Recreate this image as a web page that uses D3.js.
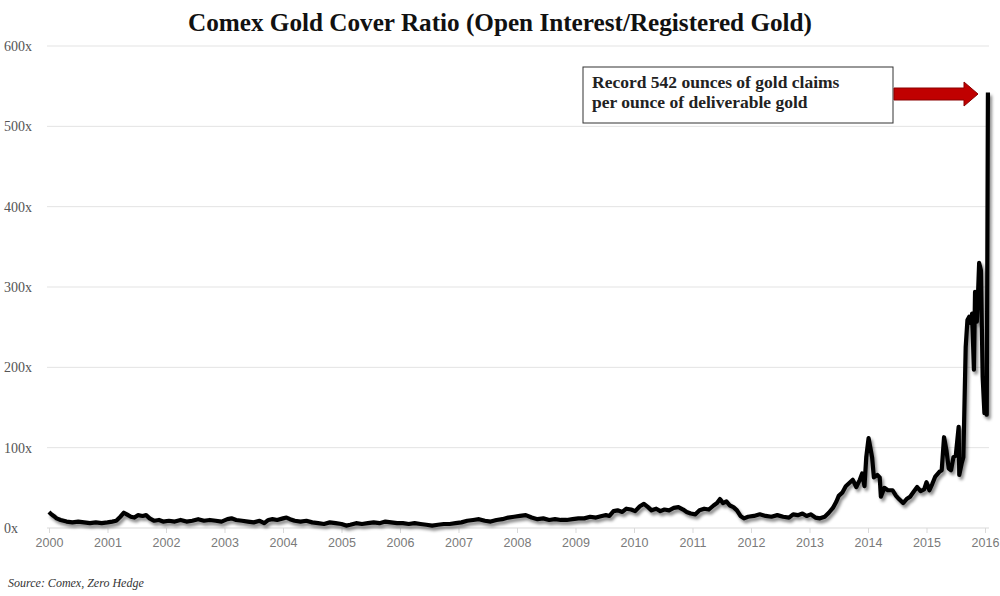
<!DOCTYPE html>
<html>
<head>
<meta charset="utf-8">
<script src="https://cdn.jsdelivr.net/npm/d3@7"></script>
<style>
  html, body { margin: 0; padding: 0; background: #fff; }
  svg { display: block; }
</style>
</head>
<body>
<div id="chart"></div>
<script>
// ratio readings [decimal year, open interest / registered gold]
const coverRatio = [
  [2000.00, 20], [2000.04, 17], [2000.08, 15], [2000.13, 12], [2000.20, 10], [2000.30, 8], [2000.40, 7],
  [2000.50, 8], [2000.60, 7], [2000.70, 6], [2000.80, 7], [2000.90, 6],
  [2001.00, 7], [2001.08, 8], [2001.15, 9], [2001.22, 14], [2001.28, 19], [2001.33, 17], [2001.40, 14],
  [2001.46, 13], [2001.52, 16], [2001.60, 15], [2001.66, 16], [2001.72, 12], [2001.80, 9], [2001.88, 10], [2001.95, 8],
  [2002.05, 9], [2002.15, 8], [2002.25, 10], [2002.35, 8], [2002.45, 9], [2002.55, 11], [2002.65, 9],
  [2002.75, 10], [2002.85, 9], [2002.95, 8],
  [2003.05, 11], [2003.12, 12], [2003.20, 10], [2003.30, 9], [2003.40, 8], [2003.50, 7], [2003.60, 9],
  [2003.68, 6], [2003.75, 10], [2003.82, 11], [2003.90, 10],
  [2004.00, 12], [2004.06, 13], [2004.12, 11], [2004.20, 9], [2004.30, 8], [2004.40, 9], [2004.50, 7],
  [2004.60, 6], [2004.70, 5], [2004.80, 7], [2004.90, 6],
  [2005.00, 5], [2005.08, 3], [2005.15, 4], [2005.25, 6], [2005.35, 5], [2005.45, 6], [2005.55, 7],
  [2005.65, 6], [2005.75, 8], [2005.85, 7], [2005.95, 6],
  [2006.05, 6], [2006.15, 5], [2006.25, 6], [2006.35, 5], [2006.45, 4], [2006.55, 3], [2006.65, 4],
  [2006.75, 5], [2006.85, 5], [2006.95, 6],
  [2007.05, 7], [2007.15, 9], [2007.25, 10], [2007.35, 11], [2007.45, 9], [2007.55, 8], [2007.65, 10],
  [2007.75, 11], [2007.85, 13], [2007.95, 14],
  [2008.05, 15], [2008.15, 16], [2008.25, 13], [2008.35, 11], [2008.45, 12], [2008.55, 10], [2008.65, 11],
  [2008.75, 10], [2008.85, 10], [2008.95, 11],
  [2009.05, 12], [2009.15, 12], [2009.25, 14], [2009.35, 13], [2009.45, 15], [2009.52, 16], [2009.58, 15],
  [2009.65, 21], [2009.72, 22], [2009.80, 20], [2009.87, 24], [2009.95, 23],
  [2010.02, 21], [2010.10, 27], [2010.17, 30], [2010.24, 26], [2010.30, 22], [2010.38, 24], [2010.45, 21],
  [2010.52, 23], [2010.60, 22], [2010.68, 25], [2010.76, 26], [2010.84, 23], [2010.90, 20], [2010.97, 18],
  [2011.05, 17], [2011.12, 22], [2011.20, 24], [2011.28, 23], [2011.36, 28], [2011.42, 31], [2011.47, 36],
  [2011.52, 31], [2011.58, 33], [2011.64, 28], [2011.70, 26], [2011.76, 22], [2011.82, 15], [2011.88, 12],
  [2011.95, 14], [2012.05, 15], [2012.15, 17], [2012.25, 15], [2012.35, 14], [2012.45, 16], [2012.55, 14],
  [2012.65, 13], [2012.72, 17], [2012.80, 16], [2012.88, 18], [2012.95, 15],
  [2013.02, 17], [2013.10, 13], [2013.18, 12], [2013.26, 14], [2013.33, 19], [2013.40, 25], [2013.46, 33],
  [2013.50, 40], [2013.56, 44], [2013.62, 52], [2013.68, 56], [2013.74, 60], [2013.80, 51], [2013.86, 60],
  [2013.90, 68], [2013.94, 52], [2013.97, 88],
  [2014.01, 112], [2014.04, 100], [2014.07, 88], [2014.10, 63], [2014.16, 66], [2014.20, 63], [2014.22, 39],
  [2014.28, 50], [2014.34, 47], [2014.42, 47], [2014.48, 40], [2014.53, 36], [2014.60, 31], [2014.66, 36],
  [2014.72, 39], [2014.78, 45], [2014.84, 51], [2014.90, 46], [2014.96, 48],
  [2015.00, 57], [2015.05, 47], [2015.10, 55], [2015.15, 64], [2015.22, 70], [2015.26, 72], [2015.30, 113],
  [2015.34, 97], [2015.38, 74], [2015.42, 72], [2015.46, 88], [2015.50, 90], [2015.55, 126], [2015.56, 66],
  [2015.60, 80], [2015.63, 88], [2015.67, 225], [2015.70, 259], [2015.73, 263], [2015.76, 255], [2015.78, 267],
  [2015.81, 197], [2015.83, 294], [2015.86, 257], [2015.88, 290], [2015.90, 330], [2015.93, 321],
  [2015.96, 188], [2015.99, 143], [2016.01, 160], [2016.03, 141], [2016.05, 542]
];

const yTicks = [0, 100, 200, 300, 400, 500, 600];
const xTicks = d3.range(2000, 2017);

const titleText = 'Comex Gold Cover Ratio (Open Interest/Registered Gold)';
const noteLines = ['Record 542 ounces of gold claims', 'per ounce of deliverable gold'];
const sourceText = 'Source: Comex, Zero Hedge';

const width = 1000;
const height = 596;

const x = d3.scaleLinear().domain([2000, 2016]).range([49, 985]);
const y = d3.scaleLinear().domain([0, 600]).range([528, 46]);

const svg = d3.select('#chart').append('svg')
  .attr('width', width)
  .attr('height', height)
  .style('font-family', '"Liberation Serif", "DejaVu Serif", serif');

const defs = svg.append('defs');
const shadow = defs.append('filter')
  .attr('id', 'shadow')
  .attr('x', '-10%').attr('y', '-10%')
  .attr('width', '130%').attr('height', '130%');
shadow.append('feDropShadow')
  .attr('dx', 2).attr('dy', 3)
  .attr('stdDeviation', 1.8)
  .attr('flood-color', '#000')
  .attr('flood-opacity', 0.45);

// title
svg.append('text')
  .attr('x', width / 2)
  .attr('y', 31)
  .attr('text-anchor', 'middle')
  .attr('textLength', 624)
  .attr('lengthAdjust', 'spacingAndGlyphs')
  .style('font-size', '25px')
  .style('font-weight', 'bold')
  .style('fill', '#111')
  .text(titleText);

// gridlines
svg.append('g')
  .selectAll('line')
  .data(yTicks.filter(d => d > 0))
  .join('line')
  .attr('x1', 47).attr('x2', 989)
  .attr('y1', d => y(d)).attr('y2', d => y(d))
  .attr('stroke', '#e3e3e3')
  .attr('stroke-width', 1);

// y labels
svg.append('g')
  .selectAll('text')
  .data(yTicks)
  .join('text')
  .attr('x', 4)
  .attr('y', d => y(d) + 5)
  .style('font-size', '14px')
  .style('fill', '#555')
  .text(d => d + 'x');

// x axis
const xAxis = d3.axisBottom(x)
  .tickValues(xTicks)
  .tickFormat(d3.format('d'))
  .tickSize(5)
  .tickPadding(5);

const xg = svg.append('g')
  .attr('transform', `translate(0,${y(0)})`)
  .call(xAxis);
xg.select('.domain').attr('d', `M47,0H989`).attr('stroke', '#d9d9d9');
xg.selectAll('.tick line').attr('stroke', '#d9d9d9');
xg.selectAll('.tick text')
  .style('font-family', '"Liberation Sans", Arial, sans-serif')
  .style('font-size', '12.5px')
  .style('fill', '#7a7a7a');

// line
const line = d3.line()
  .x(d => x(d[0]))
  .y(d => y(d[1]))
  .curve(d3.curveLinear);

svg.append('path')
  .datum(coverRatio)
  .attr('d', line)
  .attr('fill', 'none')
  .attr('stroke', '#000')
  .attr('stroke-width', 4.2)
  .attr('stroke-linejoin', 'round')
  .attr('filter', 'url(#shadow)');

// annotation box
const note = svg.append('g').attr('transform', 'translate(583,67)');
note.append('rect')
  .attr('width', 310).attr('height', 56)
  .attr('fill', '#fff')
  .attr('stroke', '#333')
  .attr('stroke-width', 1);
note.append('text')
  .style('font-size', '17.5px')
  .style('font-weight', 'bold')
  .style('fill', '#222')
  .selectAll('tspan')
  .data(noteLines)
  .join('tspan')
  .attr('x', 9)
  .attr('y', (d, i) => 21 + i * 20)
  .text(d => d);

// red arrow
const arrowPath = d3.path();
arrowPath.moveTo(894, 88);
arrowPath.lineTo(964, 88);
arrowPath.lineTo(964, 82);
arrowPath.lineTo(978, 94);
arrowPath.lineTo(964, 106);
arrowPath.lineTo(964, 100);
arrowPath.lineTo(894, 100);
arrowPath.closePath();
svg.append('path')
  .attr('d', arrowPath.toString())
  .attr('fill', '#c00000')
  .attr('stroke', '#8a0000')
  .attr('stroke-width', 1);

// source
svg.append('text')
  .attr('x', 8)
  .attr('y', 587)
  .style('font-size', '12px')
  .style('font-style', 'italic')
  .style('fill', '#333')
  .text(sourceText);
</script>
</body>
</html>
